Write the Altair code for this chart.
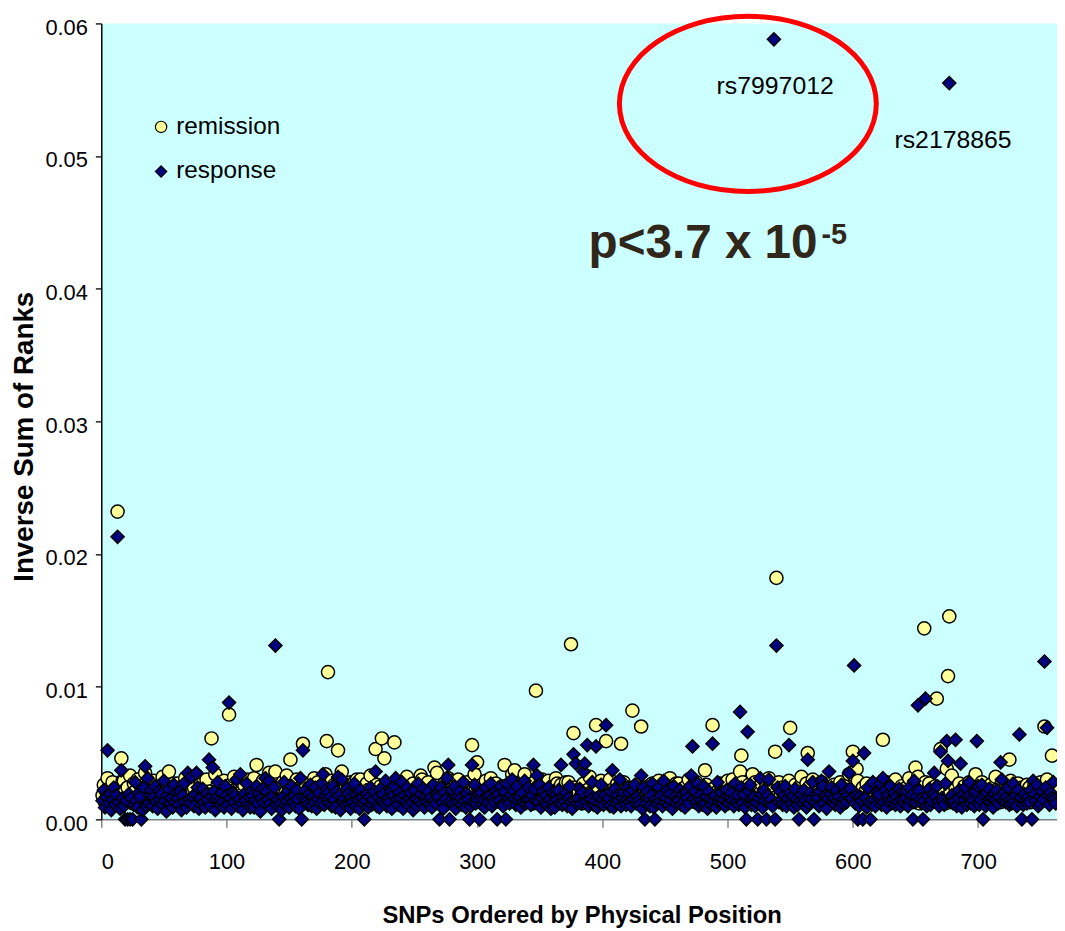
import altair as alt
import pandas as pd

SANS = "Liberation Sans"

# ---- band values (units of 1e-4), SNP index 1..762 ----
response_base = [
14,22,9,17,27,12,19,7,15,24,11,18,30,13,8,21,16,10,25,14,
12,19,6,16,23,11,28,14,9,20,17,13,7,24,15,10,31,12,18,22,
10,17,25,13,8,21,15,19,11,29,14,6,18,23,12,16,9,26,13,20,
16,11,21,7,18,27,13,9,22,15,12,32,17,10,19,14,24,8,16,11,
23,13,9,19,15,26,10,17,12,21,7,16,28,14,11,20,13,9,25,18,
11,24,16,8,20,13,18,30,10,15,22,12,7,19,14,27,11,17,9,21,
18,9,14,25,12,19,6,16,23,13,10,21,15,29,12,8,18,24,14,11,
15,20,12,7,17,28,11,14,21,9,16,25,13,18,10,22,15,8,31,13,
9,16,22,14,11,19,26,10,17,13,24,8,15,20,12,27,14,11,18,23,
20,12,17,10,25,15,9,21,14,18,7,30,13,16,11,23,19,12,8,17,
13,27,10,18,15,8,22,16,12,26,14,19,9,17,24,11,15,21,13,10,
17,9,23,14,19,12,29,10,16,13,21,8,18,25,12,15,11,20,16,28,
8,18,14,24,11,16,20,13,7,22,15,10,27,14,19,12,23,9,17,13,
21,11,16,9,26,14,12,19,17,10,24,13,8,20,15,31,11,18,14,22,
12,25,8,17,13,21,16,11,28,14,9,19,15,23,10,17,13,26,12,16,
19,14,20,11,15,9,24,17,12,18,27,10,16,13,21,8,19,14,25,11,
10,21,13,27,16,12,18,8,22,15,11,25,14,17,9,20,13,29,12,15,
24,15,11,18,10,23,14,19,13,26,9,16,21,12,18,11,24,15,8,20,
13,9,19,15,22,12,30,11,17,14,20,10,16,25,13,8,19,14,22,12,
16,23,12,20,8,17,13,24,10,19,15,28,11,14,21,9,17,12,26,15,
11,18,27,13,16,10,21,15,9,23,12,18,14,30,10,16,20,13,11,24,
20,13,10,22,15,26,12,17,14,11,19,8,24,15,12,21,16,10,18,27,
9,17,15,12,24,14,18,10,29,13,16,22,11,19,14,8,25,17,12,15,
14,22,11,19,13,9,20,16,12,25,17,10,15,21,13,27,10,18,14,11,
25,12,17,8,21,15,11,23,14,18,9,28,13,16,20,12,15,10,22,17,
12,16,20,14,10,27,13,18,11,15,24,12,19,9,17,14,21,26,11,15,
17,10,13,23,16,12,19,9,22,14,11,18,30,13,15,10,20,16,12,24,
13,21,15,11,18,25,10,16,14,20,12,17,9,23,15,11,27,14,19,12,
22,14,9,17,12,20,15,28,11,13,19,16,10,21,14,25,12,18,8,16,
10,19,24,13,16,11,22,14,17,9,26,12,15,20,13,18,11,23,16,14,
15,12,18,26,10,17,14,21,12,16,9,24,13,19,11,28,15,10,20,17,
19,27,11,15,13,22,9,18,14,25,12,16,20,11,17,13,23,10,15,21,
12,16,21,10,24,14,18,11,29,13,17,9,22,15,12,19,14,26,10,18,
23,11,14,19,12,17,25,13,10,21,16,14,11,27,15,9,20,13,18,12,
14,20,10,16,22,13,9,19,15,24,11,17,28,12,16,14,10,21,13,25,
11,15,26,12,18,10,20,14,23,13,16,9,19,15,22,12,17,11,30,14,
20,13,17,24,11,15,12,27,14,18,10,22,13,16,25,11,19,14,12,17,
13,22,11,16,19,14,26,10,17,12,21,15,9,24,13,18,11,20,16,28,
15,12,
]

remission_base = [
18,26,13,21,34,15,23,11,28,17,20,14,31,19,12,25,16,29,22,13,
24,15,33,19,12,27,21,16,30,14,18,25,11,22,35,17,13,28,20,15,
14,29,18,23,16,11,26,20,32,13,19,24,15,36,12,21,17,27,14,22,
27,16,20,13,25,18,31,12,22,15,28,19,14,24,17,33,11,20,26,16,
12,23,17,30,15,21,13,27,19,16,34,14,22,18,11,25,20,29,13,24,
20,14,26,18,12,32,17,23,15,28,13,21,19,26,16,12,30,18,22,15,
16,31,13,22,19,25,14,17,29,20,12,24,16,35,18,14,23,27,11,19,
25,17,21,14,28,12,20,33,16,23,18,13,26,15,22,30,14,19,24,17,
13,20,27,16,18,24,11,22,15,31,19,14,28,17,21,12,26,16,34,20,
22,15,18,29,13,26,17,20,14,23,12,36,16,19,25,15,21,13,28,18,
17,28,14,20,24,16,30,12,21,18,15,27,22,13,33,19,16,24,12,26,
21,13,25,17,15,29,19,23,12,26,16,20,14,31,18,22,15,28,17,13,
15,24,19,32,14,18,21,13,27,17,23,11,25,19,16,30,14,20,26,18,
28,16,12,22,17,26,15,35,13,20,18,24,14,27,12,21,19,16,29,15,
13,21,27,15,30,14,19,22,16,25,12,28,17,20,15,33,18,13,23,19,
23,18,14,26,16,21,29,12,20,17,31,15,24,13,27,16,22,18,14,25,
16,27,20,13,24,15,18,34,14,22,19,16,26,12,21,17,29,15,23,13,
26,14,22,17,12,28,16,20,25,15,13,30,18,23,14,19,27,12,21,16,
14,19,31,15,23,17,26,13,20,16,28,14,22,18,35,15,17,24,13,20,
20,16,24,12,27,19,14,22,17,32,15,21,13,26,18,23,16,12,29,17,
18,25,13,21,16,30,20,15,23,14,19,27,17,12,24,16,28,20,15,22,
24,15,19,28,13,22,17,26,12,20,33,16,23,15,18,14,25,19,13,27,
15,22,17,13,29,16,24,19,21,14,26,12,18,31,16,22,15,20,27,13,
27,18,14,23,19,12,25,17,30,15,20,16,22,13,28,18,14,24,16,21,
13,20,26,16,22,18,15,33,14,24,17,21,12,27,19,15,25,13,20,29,
21,14,18,30,15,25,13,19,23,16,12,28,20,15,22,17,26,14,18,24,
16,28,22,14,19,13,27,16,21,18,25,14,31,17,13,23,16,20,15,26,
25,17,13,24,16,21,19,14,29,12,22,18,15,26,20,14,24,17,32,16,
14,22,27,18,13,25,16,30,15,20,17,23,13,19,28,16,21,14,18,24,
19,15,21,13,26,17,23,14,20,28,16,12,25,18,15,22,34,16,19,13,
23,18,15,29,14,20,16,24,13,21,27,17,19,15,23,12,26,18,14,20,
16,26,20,14,22,13,28,18,15,24,17,21,14,30,19,16,22,13,25,17,
20,14,24,17,31,16,19,13,23,15,27,18,12,21,16,25,14,28,17,22,
27,16,13,22,18,25,15,20,14,29,17,23,16,12,26,19,15,21,33,14,
15,23,19,16,27,14,21,17,25,13,20,16,28,18,22,14,30,17,13,24,
22,17,28,13,20,16,24,15,19,26,14,21,17,32,15,23,18,13,27,16,
17,25,15,21,14,29,18,22,16,20,13,27,19,15,24,17,21,14,26,19,
24,13,20,18,26,15,17,23,14,28,16,22,15,19,31,14,20,17,25,18,
16,21,
]

# ---- values that stand out of the band (SNP index: value in 1e-4) ----
remission_peaks = {
    5: 31, 13: 232, 16: 46, 17: 29, 88: 61, 102: 79, 124: 41, 139: 36,
    151: 45, 161: 57, 180: 59, 181: 111, 189: 52, 204: 30, 219: 53,
    224: 61, 226: 46, 234: 58, 255: 33, 266: 39, 277: 31, 296: 56,
    298: 34, 300: 43, 322: 41, 330: 37, 338: 34, 347: 97, 357: 29,
    364: 27, 373: 28, 375: 132, 377: 65, 388: 22, 395: 71, 403: 59,
    415: 57, 424: 82, 431: 70, 482: 37, 488: 71, 510: 36, 511: 48,
    520: 34, 538: 51, 539: 182, 541: 28, 550: 69, 564: 50, 566: 25,
    600: 51, 603: 38, 624: 60, 650: 39, 652: 32, 657: 144, 667: 91,
    670: 53, 675: 38, 676: 108, 677: 153, 698: 34, 725: 45, 732: 27,
    753: 70, 755: 30, 759: 48,
}
response_peaks = {
    5: 52, 13: 213, 16: 37, 35: 40, 69: 35, 76: 35, 86: 45, 89: 39,
    102: 88, 111: 34, 131: 31, 139: 131, 161: 52, 177: 34, 189: 32,
    219: 36, 235: 31, 277: 41, 296: 41, 328: 30, 345: 41, 348: 33,
    367: 41, 377: 49, 379: 42, 385: 36, 386: 42, 388: 56, 395: 55,
    403: 71, 408: 37, 431: 33, 471: 33, 472: 55, 488: 57, 510: 81,
    516: 66, 526: 31, 537: 588, 539: 131, 549: 56, 564: 45, 575: 29,
    581: 36, 597: 35, 600: 44, 601: 116, 609: 50, 624: 31, 652: 86,
    658: 91, 665: 35, 670: 51, 675: 59, 676: 44, 677: 555, 682: 60,
    686: 42, 699: 59, 718: 43, 733: 64, 744: 29, 753: 119, 755: 69,
}
response_zero_snps = [19, 21, 23, 25, 32, 142, 160, 210, 270, 278, 294,
                      302, 316, 323, 434, 442, 515, 524, 531, 538, 557,
                      569, 604, 608, 614, 648, 656, 704, 735, 743]

series_names = ["remission", "response"]
x_ticks = [0, 100, 200, 300, 400, 500, 600, 700]
y_ticks = [0.0, 0.01, 0.02, 0.03, 0.04, 0.05, 0.06]

# annotations (data coordinates)
snp_labels = ["rs7997012", "rs2178865"]
snp_label_x = [538, 680]
snp_label_y = [0.05467, 0.05064]
p_text = ["p<3.7 x 10"]
p_x = [389]
p_y = [0.0423]
p_sup = ["-5"]
p_sup_x = [575]
p_sup_y = [0.0434]
ellipse_x = [516.2]
ellipse_y = [0.05394]

# ---- build the table ----
n = min(len(remission_base), len(response_base))
rem = list(remission_base[:n])
resp = list(response_base[:n])
for k, v in remission_peaks.items():
    rem[k - 1] = v
for k, v in response_peaks.items():
    resp[k - 1] = v
for k in response_zero_snps:
    resp[k - 1] = 0

rows = [{"snp": i + 1, "value": rem[i] / 1e4, "series": "remission"} for i in range(n)]
rows += [{"snp": i + 1, "value": resp[i] / 1e4, "series": "response"} for i in range(n)]
df = pd.DataFrame(rows)

xscale = alt.Scale(domain=[0, 763], nice=False, zero=False)
yscale = alt.Scale(domain=[0, 0.06], nice=False)

leg = alt.Legend(
    title=None, orient="none", legendX=48, legendY=92,
    labelFont=SANS, labelFontSize=24.5, labelColor="black",
    symbolSize=130, symbolStrokeWidth=1.2,
    rowPadding=20, padding=0, labelOffset=3,
)

points = alt.Chart(df).mark_point(
    filled=True, size=175, strokeWidth=1.5, opacity=1
).encode(
    x=alt.X("snp:Q", scale=xscale, axis=alt.Axis(
        values=x_ticks, format="d", title="SNPs Ordered by Physical Position",
        titleFont=SANS, titleFontSize=24, titleFontWeight="bold", titleColor="black",
        titleX=484, titleY=104, titleBaseline="alphabetic",
        labelFont=SANS, labelFontSize=22, labelColor="black", labelPadding=25,
        tickSize=8, tickColor="#707070", tickWidth=1.3,
        domainColor="#808080", domainWidth=1.5, grid=False,
    )),
    y=alt.Y("value:Q", scale=yscale, axis=alt.Axis(
        values=y_ticks, format=".2f", title="Inverse Sum of Ranks",
        titleFont=SANS, titleFontSize=28, titleFontWeight="bold", titleColor="black",
        titleX=-77, titleY=416, titleBaseline="middle",
        labelFont=SANS, labelFontSize=22, labelColor="black", labelPadding=8,
        labelOffset=4, tickSize=6, tickColor="black", tickWidth=1.3,
        domainColor="black", domainWidth=1.5, grid=False,
    )),
    fill=alt.Fill("series:N", scale=alt.Scale(domain=series_names, range=["#FFFF99", "#000080"]), legend=leg),
    shape=alt.Shape("series:N", scale=alt.Scale(domain=series_names, range=["circle", "diamond"]), legend=leg),
    stroke=alt.Stroke("series:N", scale=alt.Scale(domain=series_names, range=["#000000", "#000000"]), legend=leg),
)

snp_df = pd.DataFrame({"snp": snp_label_x, "value": snp_label_y, "label": snp_labels})
snp_text = alt.Chart(snp_df).mark_text(
    font=SANS, fontSize=25, color="black", align="center", baseline="alphabetic"
).encode(x=alt.X("snp:Q", scale=xscale), y=alt.Y("value:Q", scale=yscale), text="label:N")

p_df = pd.DataFrame({"snp": p_x, "value": p_y, "label": p_text})
p_mark = alt.Chart(p_df).mark_text(
    font=SANS, fontSize=48, fontWeight="bold", color="#30261A", align="left", baseline="alphabetic"
).encode(x=alt.X("snp:Q", scale=xscale), y=alt.Y("value:Q", scale=yscale), text="label:N")

sup_df = pd.DataFrame({"snp": p_sup_x, "value": p_sup_y, "label": p_sup})
sup_mark = alt.Chart(sup_df).mark_text(
    font=SANS, fontSize=29, fontWeight="bold", color="#30261A", align="left", baseline="alphabetic"
).encode(x=alt.X("snp:Q", scale=xscale), y=alt.Y("value:Q", scale=yscale), text="label:N")

k = 0.5523
ry = 0.682
ellipse_path = (
    f"M -1 0 C -1 {-k*ry:.4f} {-k:.4f} {-ry} 0 {-ry} "
    f"C {k:.4f} {-ry} 1 {-k*ry:.4f} 1 0 "
    f"C 1 {k*ry:.4f} {k:.4f} {ry} 0 {ry} "
    f"C {-k:.4f} {ry} -1 {k*ry:.4f} -1 0 Z"
)
ell_df = pd.DataFrame({"snp": ellipse_x, "value": ellipse_y})
ellipse = alt.Chart(ell_df).mark_point(
    shape=ellipse_path, size=67000, filled=False, stroke="#FF0000", strokeWidth=5, opacity=1
).encode(x=alt.X("snp:Q", scale=xscale), y=alt.Y("value:Q", scale=yscale))

chart = alt.layer(points, snp_text, p_mark, sup_mark, ellipse).properties(
    width=963, height=802,
    padding={"left": 94, "top": 12, "right": 0, "bottom": 115},
    autosize=alt.AutoSizeParams(type="none"),
).configure_view(fill="#CCFFFF", strokeWidth=0)

chart.save("out.html", embed_options={"renderer": "svg", "actions": False})
